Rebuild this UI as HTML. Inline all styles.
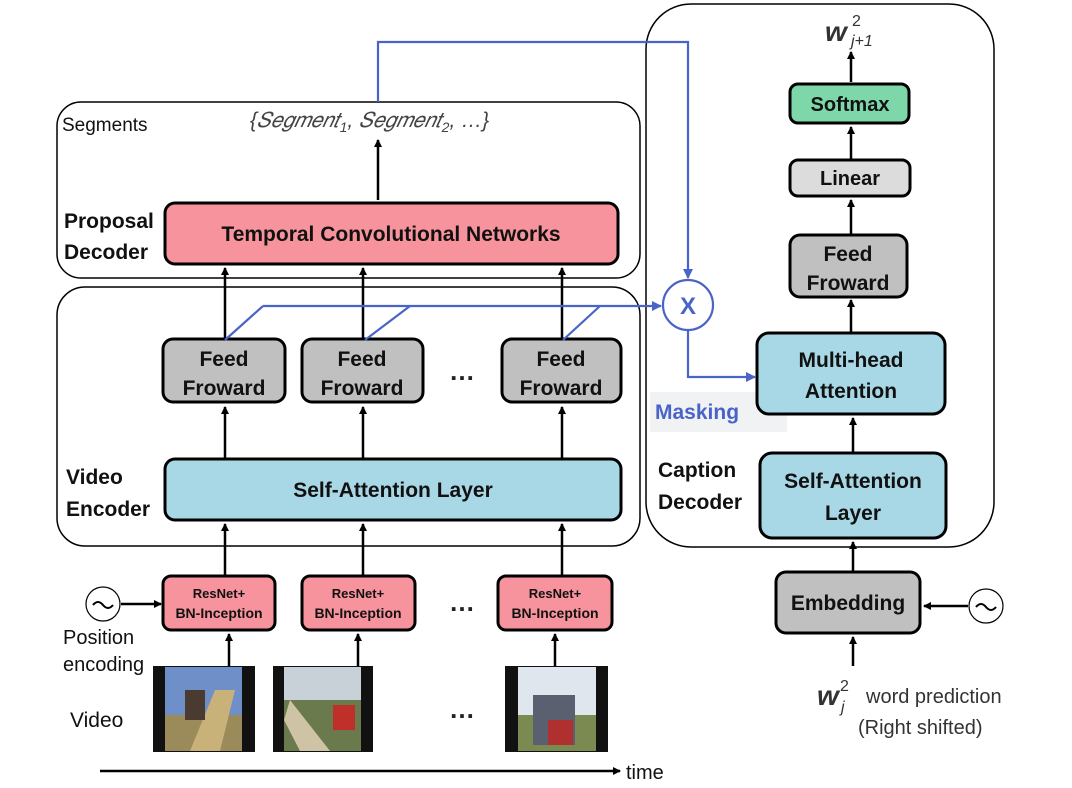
<!DOCTYPE html>
<html><head><meta charset="utf-8">
<style>
html,body{margin:0;padding:0;background:#fff;}
svg{display:block;}
text{font-family:"Liberation Sans",sans-serif;}
.b{font-weight:bold;fill:#111;}
</style></head><body>
<svg width="1072" height="788" viewBox="0 0 1072 788" xmlns="http://www.w3.org/2000/svg">
<defs>
<marker id="ak" markerWidth="8" markerHeight="8" refX="7" refY="4" orient="auto" markerUnits="userSpaceOnUse"><path d="M0,0 L8,4 L0,8 z" fill="#000"/></marker>
<marker id="ab" markerWidth="10" markerHeight="10" refX="9" refY="5" orient="auto" markerUnits="userSpaceOnUse"><path d="M0,0 L10,5 L0,10 z" fill="#4a63c8"/></marker>
</defs>
<rect x="57" y="102" width="583" height="176" rx="24" fill="none" stroke="#000" stroke-width="1.5"/>
<rect x="57" y="287" width="583" height="259" rx="28" fill="none" stroke="#000" stroke-width="1.5"/>
<rect x="646" y="4" width="348" height="543" rx="45" fill="none" stroke="#000" stroke-width="1.5"/>
<rect x="650" y="392" width="137" height="40" fill="#f1f2f4"/>

<text x="62" y="131" font-size="19" fill="#111">Segments</text>
<text x="250" y="127" font-size="21" fill="#444" font-style="italic" font-family="Liberation Serif">{𝑆𝑒𝑔𝑚𝑒𝑛𝑡<tspan font-size="14" dy="5">1</tspan><tspan dy="-5">, 𝑆𝑒𝑔𝑚𝑒𝑛𝑡</tspan><tspan font-size="14" dy="5">2</tspan><tspan dy="-5">,  …}</tspan></text>
<text x="64" y="228" font-size="21" class="b">Proposal</text>
<text x="64" y="259" font-size="21" class="b">Decoder</text>
<text x="66" y="484" font-size="21" class="b">Video</text>
<text x="66" y="516" font-size="21" class="b">Encoder</text>
<text x="658" y="477" font-size="21" class="b">Caption</text>
<text x="658" y="509" font-size="21" class="b">Decoder</text>
<text x="655" y="419" font-size="21" font-weight="bold" fill="#4a63c8">Masking</text>
<text x="63" y="644" font-size="20" fill="#111">Position</text>
<text x="63" y="671" font-size="20" fill="#111">encoding</text>
<text x="70" y="727" font-size="21" fill="#111">Video</text>
<text x="626" y="779" font-size="20" fill="#111">time</text>
<text x="817" y="705" font-size="28" font-weight="bold" font-style="italic" fill="#333" font-family="Liberation Serif">w</text>
<text x="840" y="691" font-size="16" fill="#333">2</text>
<text x="841" y="712" font-size="16" font-style="italic" fill="#333">j</text>
<text x="866" y="703" font-size="20" fill="#333">word prediction</text>
<text x="858" y="734" font-size="20" fill="#333">(Right shifted)</text>
<text x="825" y="41" font-size="28" font-weight="bold" font-style="italic" fill="#333" font-family="Liberation Serif">w</text>
<text x="852" y="26" font-size="16" fill="#333">2</text>
<text x="851" y="46" font-size="16" font-style="italic" fill="#333">j+1</text>

<g stroke="#000" stroke-width="2.5" marker-end="url(#ak)" fill="none">
<line x1="378" y1="200" x2="378" y2="140"/>
<line x1="225" y1="339" x2="225" y2="268"/><line x1="363" y1="339" x2="363" y2="268"/><line x1="562" y1="339" x2="562" y2="268"/>
<line x1="225" y1="458" x2="225" y2="407"/><line x1="363" y1="458" x2="363" y2="407"/><line x1="562" y1="458" x2="562" y2="407"/>
<line x1="225" y1="576" x2="225" y2="524"/><line x1="363" y1="576" x2="363" y2="524"/><line x1="562" y1="576" x2="562" y2="524"/>
<line x1="229" y1="666" x2="229" y2="634"/><line x1="358" y1="666" x2="358" y2="634"/><line x1="555" y1="666" x2="555" y2="634"/>
<line x1="121" y1="604" x2="161" y2="604"/>
<line x1="100" y1="771" x2="620" y2="771"/>
<line x1="851" y1="82" x2="851" y2="52"/>
<line x1="851" y1="159" x2="851" y2="127"/>
<line x1="851" y1="234" x2="851" y2="200"/>
<line x1="851" y1="332" x2="851" y2="300"/>
<line x1="853" y1="452" x2="853" y2="418"/>
<line x1="853" y1="571" x2="853" y2="542"/>
<line x1="853" y1="666" x2="853" y2="637"/>
<line x1="968" y1="606" x2="924" y2="606"/>
</g>

<g stroke="#000" stroke-width="3">
<rect x="165" y="203" width="453" height="61" rx="10" fill="#f7939c"/>
<rect x="163" y="339" width="122" height="63" rx="10" fill="#c0c0c0"/>
<rect x="302" y="339" width="121" height="63" rx="10" fill="#c0c0c0"/>
<rect x="502" y="339" width="119" height="63" rx="10" fill="#c0c0c0"/>
<rect x="165" y="459" width="456" height="61" rx="10" fill="#a8d7e6"/>
<rect x="163" y="576" width="112" height="54" rx="8" fill="#f7939c"/>
<rect x="302" y="576" width="113" height="54" rx="8" fill="#f7939c"/>
<rect x="498" y="576" width="114" height="54" rx="8" fill="#f7939c"/>
<rect x="790" y="84" width="119" height="39" rx="8" fill="#7dd7a8"/>
<rect x="790" y="160" width="120" height="36" rx="8" fill="#dcdcdc"/>
<rect x="790" y="235" width="117" height="62" rx="10" fill="#c0c0c0"/>
<rect x="757" y="333" width="188" height="81" rx="12" fill="#a8d7e6"/>
<rect x="760" y="453" width="186" height="85" rx="12" fill="#a8d7e6"/>
<rect x="776" y="572" width="144" height="61" rx="10" fill="#c0c0c0"/>
</g>
<g class="b" text-anchor="middle">
<text x="391" y="241" font-size="21">Temporal Convolutional Networks</text>
<text x="224" y="366" font-size="21">Feed</text><text x="224" y="395" font-size="21">Froward</text>
<text x="362" y="366" font-size="21">Feed</text><text x="362" y="395" font-size="21">Froward</text>
<text x="561" y="366" font-size="21">Feed</text><text x="561" y="395" font-size="21">Froward</text>
<text x="393" y="497" font-size="21">Self-Attention Layer</text>
<text x="219" y="598" font-size="13">ResNet+</text><text x="219" y="618" font-size="14">BN-Inception</text>
<text x="358" y="598" font-size="13">ResNet+</text><text x="358" y="618" font-size="14">BN-Inception</text>
<text x="555" y="598" font-size="13">ResNet+</text><text x="555" y="618" font-size="14">BN-Inception</text>
<text x="850" y="111" font-size="20">Softmax</text>
<text x="850" y="185" font-size="20">Linear</text>
<text x="848" y="261" font-size="21">Feed</text><text x="848" y="290" font-size="21">Froward</text>
<text x="851" y="367" font-size="21">Multi-head</text><text x="851" y="398" font-size="21">Attention</text>
<text x="853" y="488" font-size="21">Self-Attention</text><text x="853" y="520" font-size="21">Layer</text>
<text x="848" y="610" font-size="21">Embedding</text>
</g>
<g font-size="26" font-weight="bold" fill="#222" text-anchor="middle">
<text x="462" y="380">…</text><text x="462" y="611">…</text><text x="462" y="718">…</text>
</g>

<circle cx="103" cy="604" r="17" fill="#fff" stroke="#000" stroke-width="1.2"/>
<path d="M93,605 q5,-6 10,0 t10,0" fill="none" stroke="#000" stroke-width="2"/>
<circle cx="986" cy="606" r="17" fill="#fff" stroke="#000" stroke-width="1.2"/>
<path d="M976,607 q5,-6 10,0 t10,0" fill="none" stroke="#000" stroke-width="2"/>

<g>
<rect x="153" y="666" width="102" height="86" fill="#111"/>
<rect x="165" y="667" width="77" height="84" fill="#6f8fc8"/>
<rect x="165" y="715" width="77" height="36" fill="#9b8a5a"/>
<path d="M190,751 L215,690 L235,690 L220,751z" fill="#c9b27a"/>
<rect x="185" y="690" width="20" height="30" fill="#4a3a30"/>
<rect x="273" y="666" width="100" height="86" fill="#111"/>
<rect x="284" y="667" width="77" height="84" fill="#c8d0d8"/>
<rect x="284" y="700" width="77" height="51" fill="#6b7a4c"/>
<path d="M290,700 L330,751 L300,751 L284,720z" fill="#cfc3a6"/>
<rect x="333" y="705" width="22" height="25" fill="#c0302a"/>
<rect x="505" y="666" width="103" height="86" fill="#111"/>
<rect x="518" y="667" width="78" height="84" fill="#dfe6ee"/>
<rect x="518" y="715" width="78" height="36" fill="#7a8a50"/>
<rect x="533" y="695" width="42" height="50" fill="#5a6070"/>
<rect x="548" y="720" width="25" height="25" fill="#b03030"/>
</g>

<g stroke="#4a63c8" stroke-width="2.2" fill="none">
<polyline points="378,102 378,42 688,42 688,278" marker-end="url(#ab)"/>
<line x1="263" y1="306" x2="661" y2="306" marker-end="url(#ab)"/>
<line x1="225" y1="340" x2="263" y2="306"/>
<line x1="365" y1="340" x2="410" y2="306"/>
<line x1="563" y1="340" x2="600" y2="306"/>
<polyline points="688,330 688,377 755,377" marker-end="url(#ab)"/>
<circle cx="688" cy="305" r="25" fill="#fff"/>
</g>
<text x="688" y="314" font-size="24" font-weight="bold" fill="#4a63c8" text-anchor="middle">X</text>
</svg>
</body></html>
